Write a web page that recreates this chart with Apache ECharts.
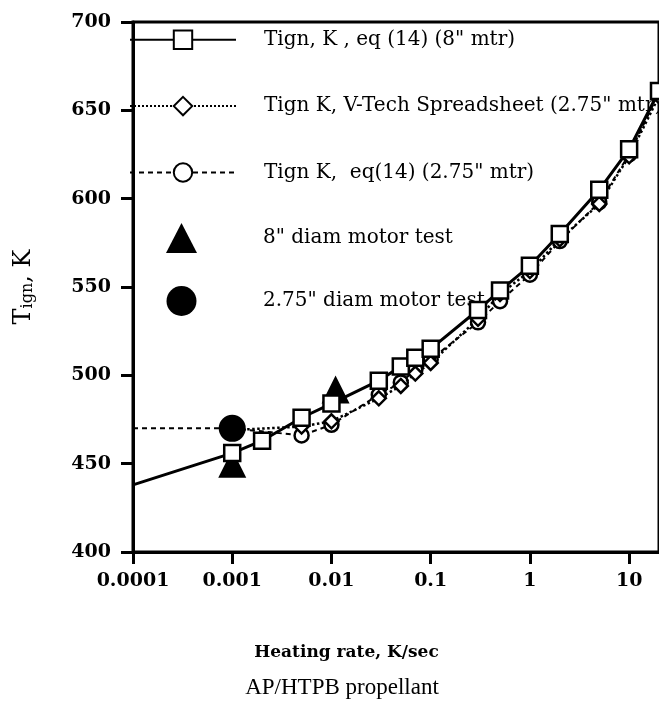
<!DOCTYPE html>
<html><head><meta charset="utf-8">
<script src="https://cdn.jsdelivr.net/npm/echarts@6/dist/echarts.min.js"></script>
<style>html,body{margin:0;padding:0;background:#fff}#c{width:659px;height:704px}</style>
</head><body><div id="c"></div>
<script>
// Heating rates (K/sec)
const rates = [0.0001, 0.001, 0.002, 0.005, 0.01, 0.03, 0.05, 0.07, 0.1, 0.3, 0.5, 1, 2, 5, 10, 20];
// Tign, K, eq (14) (8" mtr)
const eq14Mtr8 = [438, 456, 463, 476, 484, 497, 505, 510, 515, 537, 548, 562, 580, 605, 628, 661];
// Tign K, eq(14) (2.75" mtr)
const eq14Rates275 = [0.0001, 0.001, 0.005, 0.01, 0.03, 0.05, 0.07, 0.1, 0.3, 0.5, 1, 2, 5, 10, 20];
const eq14Mtr275 = [470, 470, 466, 472, 489, 496, 503, 509, 530, 542, 557, 576, 598, 625, 660];
// Tign K, V-Tech Spreadsheet (2.75" mtr)
const vtechRates = [0.001, 0.005, 0.01, 0.03, 0.05, 0.07, 0.1, 0.3, 0.5, 1, 2, 5, 10, 20];
const vtechMtr275 = [469, 471, 474, 487, 494, 501, 507, 532, 546, 559, 577, 597, 624, 658];
// Motor tests
const test8Rates = [0.001, 0.011];
const test8 = [450, 492];
const test275Rates = [0.001];
const test275 = [470];
// Axis ticks
const xTickValues = [0.0001, 0.001, 0.01, 0.1, 1, 10];
const xTickLabels = ['0.0001', '0.001', '0.01', '0.1', '1', '10'];
const yTicks = [400, 450, 500, 550, 600, 650, 700];

const names = [
  'Tign, K , eq (14) (8" mtr)',
  'Tign K, V-Tech Spreadsheet (2.75" mtr)',
  'Tign K,  eq(14) (2.75" mtr)',
  '8" diam motor test',
  '2.75" diam motor test'
];

function lineData(xs, ys, noSymbolFirst) {
  return xs.map((x, i) => (noSymbolFirst && i === 0) ? {value: [x, ys[i]], symbol: 'none'} : [x, ys[i]]);
}

const serif = 'DejaVu Serif';
const chart = echarts.init(document.getElementById('c'), null, {renderer: 'canvas'});
chart.setOption({
  animation: false,
  backgroundColor: '#fff',
  title: {
    text: 'AP/HTPB propellant',
    left: 337, top: 671, textAlign: 'center',
    textStyle: {fontFamily: 'Liberation Serif', fontSize: 23, fontWeight: 'normal', color: '#000', lineHeight: 24}
  },
  grid: {left: 130, top: 22, right: -3, bottom: 152, show: true, borderColor: '#000', borderWidth: 3, backgroundColor: 'transparent'},
  legend: [
    {
      data: names.slice(0, 3), orient: 'vertical', left: 124, top: 24.5,
      itemWidth: 106, itemHeight: 23, itemGap: 46, selectedMode: false,
      textStyle: {fontFamily: serif, fontSize: 20, color: '#000', padding: [0, 0, 0, 23]}
    },
    {
      data: names.slice(3), orient: 'vertical', left: 161, top: 218,
      itemWidth: 31, itemHeight: 30, itemGap: 33, selectedMode: false,
      textStyle: {fontFamily: serif, fontSize: 20, color: '#000', padding: [0, 0, 0, 61]}
    }
  ],
  xAxis: {
    type: 'log', logBase: 10, min: 0.0001, max: 20,
    name: 'Heating rate, K/sec', nameLocation: 'middle', nameGap: 92,
    nameTextStyle: {fontFamily: serif, fontSize: 17, fontWeight: 'bold', color: '#000', padding: [0, 99, 0, 0]},
    axisLine: {lineStyle: {color: '#000', width: 3}},
    axisTick: {length: 12, lineStyle: {color: '#000', width: 3}},
    minorTick: {show: false},
    splitLine: {show: false},
    axisLabel: {
      margin: 20, fontFamily: serif, fontSize: 19, fontWeight: 'bold', color: '#000', showMaxLabel: false,
      formatter: v => {
        const i = xTickValues.findIndex(t => Math.abs(Math.log10(t) - Math.log10(v)) < 1e-6);
        return i >= 0 ? xTickLabels[i] : '';
      }
    }
  },
  yAxis: {
    type: 'value', min: yTicks[0], max: yTicks[yTicks.length - 1], interval: 50,
    name: '{t|T}{s|ign}{t|, K}', nameLocation: 'middle', nameGap: 97,
    nameTextStyle: {
      color: '#000', fontFamily: serif,
      rich: {
        t: {fontFamily: serif, fontSize: 24, lineHeight: 24, verticalAlign: 'top', color: '#000'},
        s: {fontFamily: serif, fontSize: 16, lineHeight: 16, verticalAlign: 'bottom', padding: [12, 0, 0, 0], color: '#000'}
      }
    },
    axisLine: {show: true, lineStyle: {color: '#000', width: 3}},
    axisTick: {show: true, length: 12, lineStyle: {color: '#000', width: 3}},
    splitLine: {show: false},
    axisLabel: {margin: 22, fontFamily: serif, fontSize: 19, fontWeight: 'bold', color: '#000'}
  },
  series: [
    {
      name: names[0], type: 'line', z: 6, data: lineData(rates, eq14Mtr8, true),
      symbol: 'rect', symbolSize: 16, showAllSymbol: true,
      lineStyle: {color: '#000', width: 3, type: 'solid'},
      itemStyle: {color: '#fff', borderColor: '#000', borderWidth: 2.5}
    },
    {
      name: names[1], type: 'line', z: 3, data: lineData(vtechRates, vtechMtr275, false),
      symbol: 'diamond', symbolSize: 14, showAllSymbol: true,
      lineStyle: {color: '#000', width: 2.5, type: 'dotted'},
      itemStyle: {color: '#fff', borderColor: '#000', borderWidth: 2.5}
    },
    {
      name: names[2], type: 'line', z: 2, data: lineData(eq14Rates275, eq14Mtr275, true),
      symbol: 'circle', symbolSize: 14, showAllSymbol: true,
      lineStyle: {color: '#000', width: 2, type: [5, 4]},
      itemStyle: {color: '#fff', borderColor: '#000', borderWidth: 2.5}
    },
    {
      name: names[3], type: 'scatter', z: 4, data: lineData(test8Rates, test8, false),
      symbol: 'triangle', symbolSize: 28,
      itemStyle: {color: '#000', opacity: 1}
    },
    {
      name: names[4], type: 'scatter', z: 4, data: lineData(test275Rates, test275, false),
      symbol: 'circle', symbolSize: 27,
      itemStyle: {color: '#000', opacity: 1}
    }
  ]
});
</script>
</body></html>
